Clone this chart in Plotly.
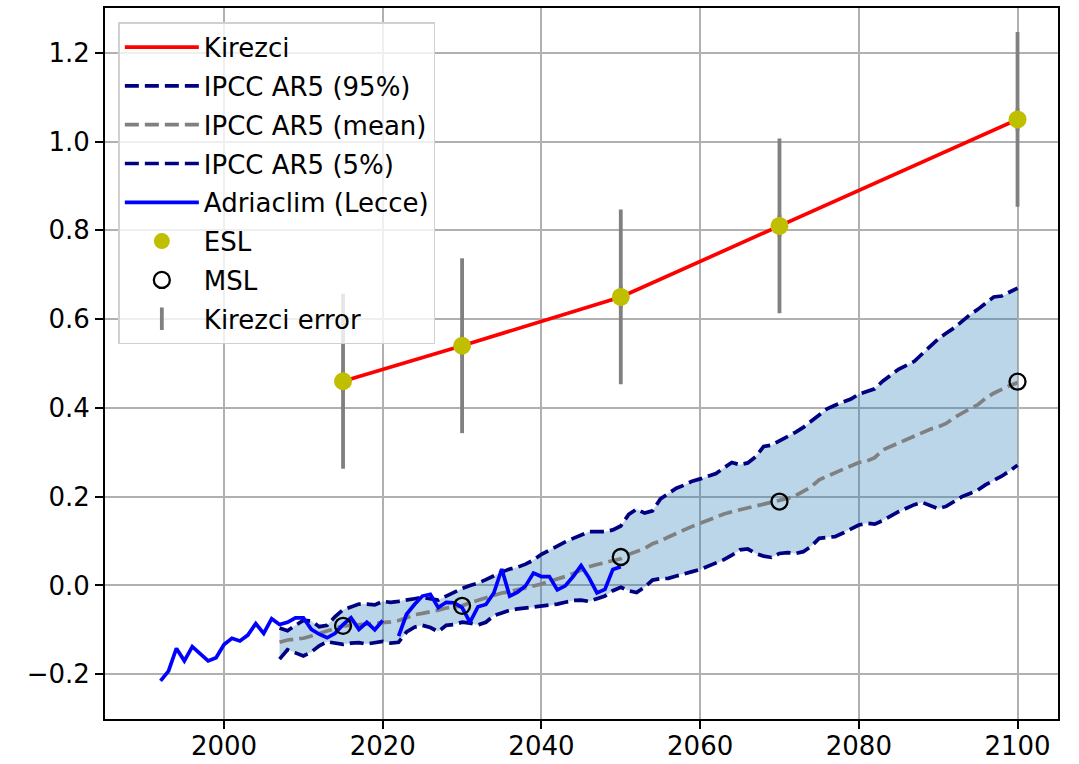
import plotly.graph_objects as go

# Kirezci extreme sea level projections with uncertainty
kirezci_years = [2015, 2030, 2050, 2070, 2100]
esl_values = [0.46, 0.54, 0.65, 0.81, 1.05]
esl_error = [0.197, 0.197, 0.197, 0.197, 0.197]

# Mean sea level points
msl_years = [2015, 2030, 2050, 2070, 2100]
msl_values = [-0.091, -0.046, 0.064, 0.189, 0.459]

# IPCC AR5 projections, yearly 2007-2100
ipcc_years = list(range(2007, 2101))
ipcc_p95 = [
    -0.096, -0.102, -0.090, -0.079, -0.080, -0.093, -0.090, -0.070, -0.055, -0.048,
    -0.042, -0.042, -0.044, -0.036, -0.038, -0.036, -0.032, -0.030, -0.027, -0.030,
    -0.033, -0.024, -0.015, -0.007, 0.000, 0.005, 0.013, 0.022, 0.030, 0.037,
    0.041, 0.048, 0.057, 0.070, 0.080, 0.089, 0.098, 0.106, 0.114, 0.121,
    0.121, 0.121, 0.125, 0.134, 0.160, 0.172, 0.163, 0.168, 0.195, 0.207,
    0.219, 0.226, 0.235, 0.240, 0.246, 0.252, 0.265, 0.277, 0.272, 0.276,
    0.290, 0.313, 0.316, 0.325, 0.336, 0.345, 0.356, 0.370, 0.386, 0.398,
    0.406, 0.412, 0.420, 0.431, 0.436, 0.443, 0.460, 0.474, 0.487, 0.496,
    0.505, 0.522, 0.538, 0.555, 0.568, 0.580, 0.595, 0.610, 0.622, 0.637,
    0.650, 0.652, 0.660, 0.670,
]
ipcc_mean = [
    -0.128, -0.123, -0.121, -0.119, -0.114, -0.108, -0.104, -0.097, -0.091, -0.090,
    -0.089, -0.087, -0.085, -0.084, -0.082, -0.079, -0.073, -0.066, -0.063, -0.060,
    -0.056, -0.051, -0.048, -0.046, -0.039, -0.033, -0.027, -0.021, -0.017, -0.014,
    -0.010, -0.006, 0.000, 0.003, 0.009, 0.014, 0.020, 0.027, 0.035, 0.042,
    0.047, 0.051, 0.055, 0.060, 0.070, 0.076, 0.083, 0.094, 0.100, 0.109,
    0.118, 0.125, 0.133, 0.140, 0.147, 0.155, 0.161, 0.166, 0.170, 0.175,
    0.180, 0.184, 0.186, 0.190, 0.196, 0.202, 0.211, 0.222, 0.238, 0.246,
    0.252, 0.260, 0.270, 0.277, 0.280, 0.288, 0.305, 0.313, 0.320, 0.330,
    0.338, 0.345, 0.352, 0.357, 0.365, 0.378, 0.389, 0.398, 0.407, 0.422,
    0.433, 0.442, 0.450, 0.457,
]
ipcc_p05 = [
    -0.166, -0.145, -0.152, -0.159, -0.150, -0.136, -0.127, -0.131, -0.133, -0.130,
    -0.129, -0.132, -0.128, -0.126, -0.130, -0.128, -0.105, -0.094, -0.090, -0.095,
    -0.104, -0.090, -0.088, -0.083, -0.085, -0.089, -0.083, -0.068, -0.062, -0.056,
    -0.053, -0.051, -0.050, -0.048, -0.046, -0.042, -0.038, -0.034, -0.033, -0.036,
    -0.030, -0.024, -0.012, -0.004, -0.012, -0.016, -0.004, 0.012, 0.015, 0.016,
    0.021, 0.027, 0.031, 0.036, 0.043, 0.049, 0.058, 0.068, 0.080, 0.082,
    0.072, 0.066, 0.063, 0.072, 0.074, 0.072, 0.076, 0.088, 0.106, 0.108,
    0.110, 0.118, 0.128, 0.136, 0.140, 0.138, 0.146, 0.157, 0.166, 0.174,
    0.182, 0.187, 0.180, 0.173, 0.178, 0.190, 0.200, 0.207, 0.215, 0.227,
    0.236, 0.246, 0.258, 0.271,
]

# Adriaclim model series at Lecce (no value for 2021)
adriaclim_years = list(range(1992, 2051))
adriaclim_values = [
    -0.215, -0.193, -0.142, -0.170, -0.138, -0.154, -0.170, -0.163, -0.133, -0.119,
    -0.125, -0.112, -0.086, -0.108, -0.075, -0.088, -0.083, -0.073, -0.073, -0.099,
    -0.110, -0.118, -0.108, -0.088, -0.073, -0.099, -0.083, -0.100, -0.079, None,
    -0.114, -0.065, -0.043, -0.024, -0.020, -0.050, -0.038, -0.039, -0.050, -0.083,
    -0.048, -0.043, -0.017, 0.037, -0.024, -0.015, -0.001, 0.028, 0.020, 0.020,
    -0.010, -0.001, 0.020, 0.045, 0.017, -0.017, -0.009, 0.036, 0.042,
]

x_ticks = [2000, 2020, 2040, 2060, 2080, 2100]
y_ticks = [-0.2, 0.0, 0.2, 0.4, 0.6, 0.8, 1.0, 1.2]

NAVY = "#000080"
GRAY = "#808080"
DASH = "14px,6px"
LW = 3.7
FONT_SIZE = 26

fig = go.Figure()

# Shaded band between the 5% and 95% projections
fig.add_trace(go.Scatter(x=ipcc_years, y=ipcc_p05, mode="lines", line=dict(width=0),
                         showlegend=False, hoverinfo="skip"))
fig.add_trace(go.Scatter(x=ipcc_years, y=ipcc_p95, mode="lines", line=dict(width=0),
                         fill="tonexty", fillcolor="rgba(31,119,180,0.3)",
                         showlegend=False, hoverinfo="skip"))

fig.add_trace(go.Scatter(x=kirezci_years, y=esl_values, mode="lines", name="Kirezci",
                         line=dict(color="#ff0000", width=LW), legendrank=1, legendgroup="a"))
fig.add_trace(go.Scatter(x=ipcc_years, y=ipcc_p95, mode="lines", name="IPCC AR5 (95%)",
                         line=dict(color=NAVY, width=LW, dash=DASH), legendrank=2, legendgroup="b"))
fig.add_trace(go.Scatter(x=ipcc_years, y=ipcc_mean, mode="lines", name="IPCC AR5 (mean)",
                         line=dict(color=GRAY, width=LW, dash=DASH), legendrank=3, legendgroup="c"))
fig.add_trace(go.Scatter(x=ipcc_years, y=ipcc_p05, mode="lines", name="IPCC AR5 (5%)",
                         line=dict(color=NAVY, width=LW, dash=DASH), legendrank=4, legendgroup="d"))
fig.add_trace(go.Scatter(x=adriaclim_years, y=adriaclim_values, mode="lines",
                         name="Adriaclim (Lecce)", connectgaps=False,
                         line=dict(color="#0000ff", width=LW), legendrank=5, legendgroup="e"))
fig.add_trace(go.Scatter(x=kirezci_years, y=esl_values, mode="markers", name="Kirezci error",
                         marker=dict(symbol="line-ns-open", size=16, color=GRAY,
                                     line=dict(color=GRAY, width=3.8)),
                         error_y=dict(type="data", array=esl_error, color=GRAY,
                                      thickness=3.8, width=0),
                         legendrank=8, legendgroup="h"))
fig.add_trace(go.Scatter(x=kirezci_years, y=esl_values, mode="markers", name="ESL",
                         marker=dict(color="#bfbf00", size=18, line=dict(width=0)),
                         legendrank=6, legendgroup="f"))
fig.add_trace(go.Scatter(x=msl_years, y=msl_values, mode="markers", name="MSL",
                         marker=dict(symbol="circle-open", color="black", size=16,
                                     line=dict(color="black", width=2.3)),
                         legendrank=7, legendgroup="g"))

axis_common = dict(
    showgrid=True, gridcolor="#b0b0b0", gridwidth=1.8,
    showline=True, linecolor="black", linewidth=1.8, mirror=True,
    ticks="outside", ticklen=8, tickwidth=1.8, tickcolor="black",
    zeroline=False, automargin=False, tickfont=dict(size=FONT_SIZE, color="black"),
)

fig.update_layout(
    width=1079, height=764,
    margin=dict(l=105, r=21, t=8, b=45),
    paper_bgcolor="white", plot_bgcolor="white",
    font=dict(family="DejaVu Sans", size=FONT_SIZE, color="black"),
    xaxis=dict(range=[1985, 2105.1], tickvals=x_ticks, ticklabelstandoff=-5, **axis_common),
    yaxis=dict(range=[-0.301, 1.301], tickvals=y_ticks, tickformat=".1f", **axis_common),
    legend=dict(x=0.014, y=0.98, xanchor="left", yanchor="top",
                bgcolor="rgba(255,255,255,0.8)", bordercolor="#d0d0d0", borderwidth=1.5,
                font=dict(size=FONT_SIZE), tracegroupgap=2, itemwidth=74),
    showlegend=True,
)

fig.write_html("out.html")
